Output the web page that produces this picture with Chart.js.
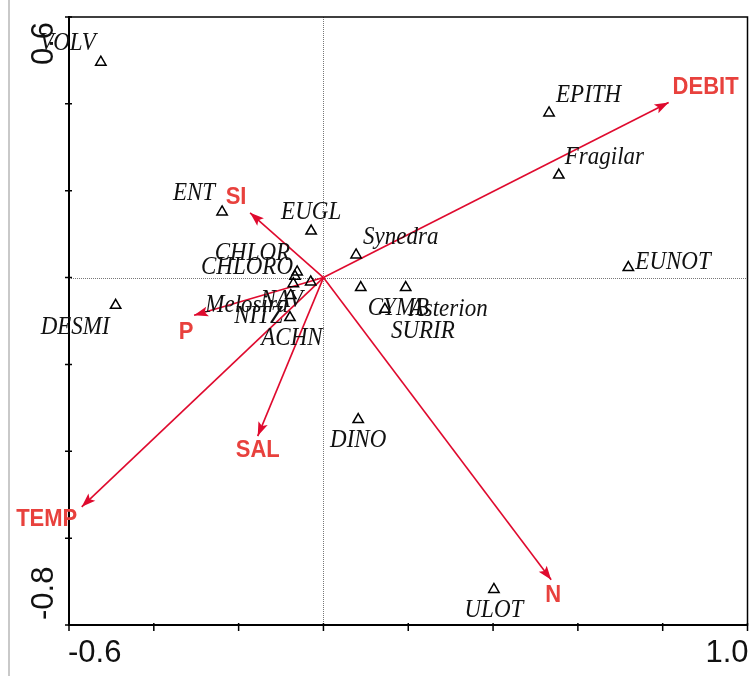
<!DOCTYPE html>
<html>
<head>
<meta charset="utf-8">
<script src="https://cdn.jsdelivr.net/npm/chart.js@4/dist/chart.umd.min.js"></script>
<style>
html,body{margin:0;padding:0;background:#fff;}
canvas{display:block;}
</style>
</head>
<body>
<canvas id="c" width="755" height="676"></canvas>
<script>
// Species scores (axis 1, axis 2)
const speciesNames = ['VOLV','EPITH','Fragilar','EUNOT','ENT','EUGL','Synedra','CHLOR','CHLORO','NAV','Melosira','NITZ','ACHN','DESMI','CYMB','Asterion','SURIR','DINO','ULOT'];
const speciesX = [-0.525, 0.532, 0.555, 0.719, -0.239, -0.029, 0.077, -0.062, -0.067, -0.030, -0.071, -0.077, -0.079, -0.490, 0.088, 0.194, 0.145, 0.082, 0.402];
const speciesY = [0.496, 0.379, 0.236, 0.023, 0.151, 0.107, 0.052, 0.013, 0.003, -0.010, -0.014, -0.041, -0.092, -0.064, -0.023, -0.023, -0.073, -0.327, -0.718];

// Environmental variable vectors (arrow tips)
const envNames = ['DEBIT','SI','P','TEMP','SAL','N'];
const envX = [0.814, -0.173, -0.305, -0.570, -0.155, 0.537];
const envY = [0.403, 0.149, -0.087, -0.528, -0.365, -0.696];

// Axis range and end labels
const xRange = [-0.6, 1.0];
const yRange = [-0.8, 0.6];
const xTickLabels = ['-0.6', '1.0'];
const yTickLabels = ['0.6', '-0.8'];

// Label placement: [align, dx, dy] in pixels from the mark
const speciesLabelPlace = [
  ['right',-5,-19], ['left',7,-18], ['left',6,-18], ['left',7,-5], ['right',-7,-19],
  ['center',0,-19], ['left',7,-18], ['right',-7,-19], ['right',-2,-9], ['center',-29,18],
  ['right',-5,22], ['right',-8,21], ['center',2,21], ['right',-6,22], ['left',7,21],
  ['left',4,22], ['left',6,22], ['center',0,21], ['center',0,21]
];
const envLabelPlace = [
  ['left',4,-15], ['center',-14,-15], ['center',-8,17], ['center',-35,13], ['center',0,15], ['center',2,16]
];

const ARROW = '#df0a2e';
const ENV_TEXT = '#e8413d';

const speciesPoints = speciesX.map((x, i) => ({x, y: speciesY[i]}));
const arrowSets = envNames.map((name, i) => ({
  label: name,
  data: [{x: 0, y: 0}, {x: envX[i], y: envY[i]}],
  showLine: true,
  borderColor: ARROW,
  borderWidth: 1.6,
  pointRadius: 0,
  fill: false
}));

const biplotDecor = {
  id: 'biplotDecor',
  beforeDraw(chart) {
    const ctx = chart.ctx;
    ctx.save();
    ctx.fillStyle = '#fff';
    ctx.fillRect(0, 0, chart.width, chart.height);
    // page edge line on the left
    ctx.fillStyle = '#c9c9c9';
    ctx.fillRect(8, 0, 2, chart.height);
    ctx.restore();
  },
  beforeDatasetsDraw(chart) {
    const {ctx, chartArea: a, scales: {x, y}} = chart;
    ctx.save();
    // zero reference lines
    ctx.strokeStyle = '#777';
    ctx.lineWidth = 1;
    ctx.setLineDash([1, 1]);
    const x0 = Math.round(x.getPixelForValue(0)) + 0.5;
    const y0 = Math.round(y.getPixelForValue(0)) + 0.5;
    ctx.beginPath();
    ctx.moveTo(x0, a.top); ctx.lineTo(x0, a.bottom);
    ctx.moveTo(a.left, y0); ctx.lineTo(a.right, y0);
    ctx.stroke();
    ctx.setLineDash([]);

    // frame
    ctx.strokeStyle = '#000';
    ctx.lineWidth = 1.5;
    ctx.strokeRect(a.left, a.top, a.right - a.left, a.bottom - a.top);
    ctx.lineWidth = 2;
    ctx.beginPath();
    ctx.moveTo(a.left, a.top - 1); ctx.lineTo(a.left, a.bottom + 1);
    ctx.moveTo(a.left, a.bottom); ctx.lineTo(a.right, a.bottom);
    ctx.stroke();

    // tick marks
    ctx.lineWidth = 1.5;
    ctx.beginPath();
    x.ticks.forEach(t => {
      const px = x.getPixelForValue(t.value);
      ctx.moveTo(px, a.bottom - 2); ctx.lineTo(px, a.bottom + 6);
    });
    y.ticks.forEach(t => {
      const py = y.getPixelForValue(t.value);
      ctx.moveTo(a.left - 4, py); ctx.lineTo(a.left + 3, py);
    });
    ctx.stroke();

    // end labels of the axes
    ctx.fillStyle = '#111';
    ctx.font = '31px "Liberation Sans", Arial, sans-serif';
    ctx.textBaseline = 'alphabetic';
    ctx.textAlign = 'left';
    ctx.fillText(xTickLabels[0], x.getPixelForValue(xRange[0]) - 1, 662);
    ctx.textAlign = 'right';
    ctx.fillText(xTickLabels[1], x.getPixelForValue(xRange[1]) + 1, 662);

    ctx.save();
    ctx.translate(53, y.getPixelForValue(yRange[1]) + 5);
    ctx.rotate(-Math.PI / 2);
    ctx.textAlign = 'right';
    ctx.fillText(yTickLabels[0], 0, 0);
    ctx.restore();

    ctx.save();
    ctx.translate(53, y.getPixelForValue(yRange[0]) - 5);
    ctx.rotate(-Math.PI / 2);
    ctx.textAlign = 'left';
    ctx.fillText(yTickLabels[1], 0, 0);
    ctx.restore();

    ctx.restore();
  },
  afterDatasetsDraw(chart) {
    const {ctx, scales: {x, y}} = chart;
    ctx.save();
    const ox = x.getPixelForValue(0), oy = y.getPixelForValue(0);

    // arrow heads
    ctx.fillStyle = ARROW;
    envNames.forEach((n, i) => {
      const tx = x.getPixelForValue(envX[i]), ty = y.getPixelForValue(envY[i]);
      const ang = Math.atan2(ty - oy, tx - ox);
      const L = 14, W = 5;
      ctx.save();
      ctx.translate(tx, ty);
      ctx.rotate(ang);
      ctx.beginPath();
      ctx.moveTo(0, 0);
      ctx.lineTo(-L, -W);
      ctx.lineTo(-L + 3, 0);
      ctx.lineTo(-L, W);
      ctx.closePath();
      ctx.fill();
      ctx.restore();
    });

    // species names (slightly tall serif italics)
    ctx.fillStyle = '#111';
    ctx.font = 'italic 23px "Liberation Serif", "Times New Roman", serif';
    ctx.textBaseline = 'middle';
    speciesNames.forEach((n, i) => {
      const [al, dx, dy] = speciesLabelPlace[i];
      const px = x.getPixelForValue(speciesX[i]) + dx;
      const py = y.getPixelForValue(speciesY[i]) + dy;
      ctx.save();
      ctx.translate(px, py);
      ctx.scale(1, 1.1);
      ctx.textAlign = al;
      ctx.fillText(n, 0, 0);
      ctx.restore();
    });

    // variable names
    ctx.fillStyle = ENV_TEXT;
    ctx.font = 'bold 22px "Liberation Sans", Arial, sans-serif';
    envNames.forEach((n, i) => {
      const [al, dx, dy] = envLabelPlace[i];
      const px = x.getPixelForValue(envX[i]) + dx;
      const py = y.getPixelForValue(envY[i]) + dy;
      ctx.save();
      ctx.translate(px, py);
      ctx.scale(1, 1.05);
      ctx.textAlign = al;
      ctx.fillText(n, 0, 0);
      ctx.restore();
    });
    ctx.restore();
  }
};

new Chart(document.getElementById('c'), {
  type: 'scatter',
  data: {
    datasets: [
      {
        label: 'species',
        data: speciesPoints,
        pointStyle: 'triangle',
        pointRadius: 6,
        pointHoverRadius: 6,
        borderColor: '#000',
        backgroundColor: 'rgba(255,255,255,0)',
        borderWidth: 1.5
      },
      ...arrowSets
    ]
  },
  options: {
    responsive: false,
    animation: false,
    events: [],
    layout: {padding: {left: 69, right: 2, top: 17, bottom: 51}},
    plugins: {legend: {display: false}, tooltip: {enabled: false}},
    scales: {
      x: {type: 'linear', display: false, min: xRange[0], max: xRange[1], ticks: {stepSize: 0.2}},
      y: {type: 'linear', display: false, min: yRange[0], max: yRange[1], ticks: {stepSize: 0.2}}
    }
  },
  plugins: [biplotDecor]
});
</script>
</body>
</html>
